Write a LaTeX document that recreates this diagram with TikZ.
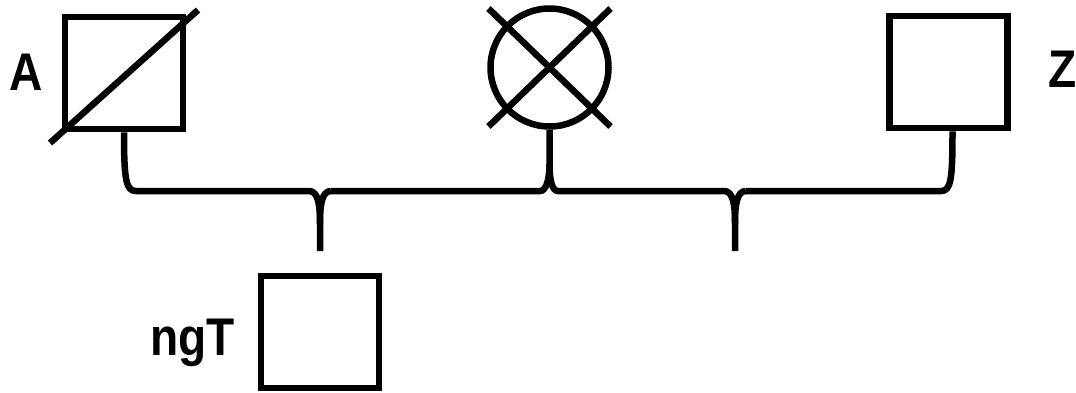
\documentclass[tikz,border=0pt]{standalone}
\usepackage{fontspec}
\newfontfamily\labfont{Liberation Sans}[FakeStretch=0.87]
\begin{document}
\begin{tikzpicture}[x=1pt,y=-1pt,line width=6.5pt,
  sq/.style={draw,rectangle,minimum width=118pt,minimum height=112pt,inner sep=0pt},
  circ/.style={draw,circle,minimum size=118pt,inner sep=0pt},
  lab/.style={font=\labfont\bfseries\fontsize{53}{53}\selectfont,anchor=base,inner sep=0pt},
  conn/.style={line width=6.5pt}]
\useasboundingbox (0,0) rectangle (1076,392);
% people
\node[sq] (A) at (124,73) {};
\node[circ] (C) at (549.5,67.5) {};
\node[sq] (Z) at (948.5,72) {};
\node[sq] (N) at (320,332) {};
% marks
\draw (A.center) +(-74,70) -- +(74,-63);
\draw (C.center) +(-61,-59) -- +(61,59);
\draw (C.center) +(-61,59) -- +(61,-59);
% labels
\node[lab] (lA) at (26.5,90) {A};
\node[lab] (lZ) at (1063,87) {Z};
\node[lab] (lN) at (192.5,355) {ngT};
% junction points
\coordinate (jA) at (136,191);
\coordinate (b1L) at (309,191);
\coordinate (b1R) at (331,191);
\coordinate (b1m) at (320,224);
\coordinate (b1) at (320,251);
\coordinate (cs) at (549.5,164);
\coordinate (cL) at (540,191);
\coordinate (cR) at (558,191);
\coordinate (b2L) at (724,191);
\coordinate (b2R) at (746,191);
\coordinate (b2m) at (735,224);
\coordinate (b2) at (735,251);
\coordinate (jZ) at (941,191);
% connectors
\draw[conn] (A.south) .. controls +(0,48) and +(-10,0) .. (jA) -- (b1L)
  .. controls +(9,0) and +(0,-20) .. (b1m) -- (b1);
\draw[conn] (b1R) .. controls +(-9,0) and +(0,-20) .. (b1m);
\draw[conn] (b1R) -- (cL) .. controls +(6,0) and +(0,16) .. (cs) -- (C.south);
\draw[conn] (cs) .. controls +(0,16) and +(-6,0) .. (cR) -- (b2L)
  .. controls +(9,0) and +(0,-20) .. (b2m) -- (b2);
\draw[conn] (b2R) .. controls +(-9,0) and +(0,-20) .. (b2m);
\draw[conn] (b2R) -- (jZ) .. controls +(10,0) and +(0,48) .. ([xshift=4pt]Z.south);
\end{tikzpicture}
\end{document}
